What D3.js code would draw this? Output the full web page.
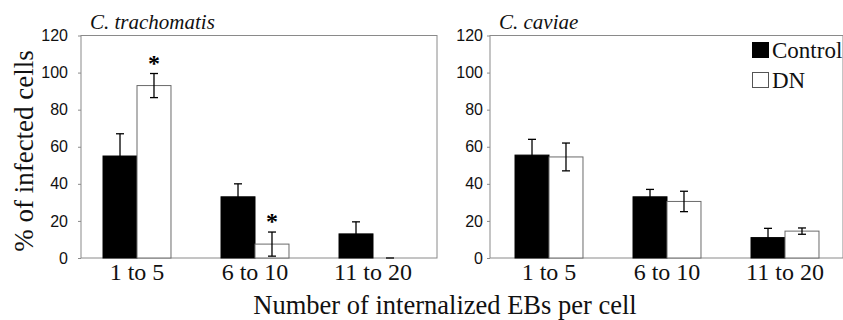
<!DOCTYPE html>
<html>
<head>
<meta charset="utf-8">
<script src="https://cdn.jsdelivr.net/npm/d3@7"></script>
<style>
  body { margin: 0; background: #fff; }
  svg { display: block; }
</style>
</head>
<body>
<script>
// data
var categories = ['1 to 5', '6 to 10', '11 to 20'];
var series = ['Control', 'DN'];
var yTicks = [0, 20, 40, 60, 80, 100, 120];

var trachMeans = { Control: [55, 33, 13], DN: [93, 7.5, 0] };
var trachErrs  = { Control: [12, 7, 6.5], DN: [6.5, 6.5, 0] };
var trachStars = { Control: [false, false, false], DN: [true, true, false] };

var caviaeMeans = { Control: [55.5, 33, 11], DN: [54.5, 30.5, 14.5] };
var caviaeErrs  = { Control: [8.5, 4, 5], DN: [7.5, 5.5, 1.7] };
var caviaeStars = { Control: [false, false, false], DN: [false, false, false] };

var serif = 'Liberation Serif';
var sans = 'Liberation Sans';

var w = 843, h = 320;
var plotTop = 35.5, plotBottom = 258;

var svg = d3.select('body').append('svg')
  .attr('width', w).attr('height', h);

var y = d3.scaleLinear().domain([0, 120]).range([plotBottom, plotTop]);

var drawPanel = (opts) => {
  var g = svg.append('g');

  var x0 = d3.scaleBand()
    .domain(categories)
    .range([opts.bandStart, opts.bandStart + 354])
    .paddingInner(0.424)
    .paddingOuter(0.212);
  var x1 = d3.scaleBand().domain(series).range([0, x0.bandwidth()]);

  // frame
  g.append('rect')
    .attr('x', opts.left).attr('y', plotTop)
    .attr('width', opts.right - opts.left).attr('height', plotBottom - plotTop)
    .attr('fill', 'none').attr('stroke', '#8a8a8a').attr('stroke-width', 1);

  // y axis
  var yAxis = g.append('g')
    .attr('transform', 'translate(' + opts.left + ',0)')
    .call(d3.axisLeft(y).tickValues(yTicks).tickSize(3).tickPadding(opts.yPad));
  yAxis.select('.domain').remove();
  yAxis.selectAll('line').attr('stroke', '#8a8a8a');
  yAxis.selectAll('text')
    .style('font-family', sans)
    .attr('font-size', 16).attr('fill', '#111');

  // x axis labels
  var xAxis = g.append('g')
    .attr('transform', 'translate(0,' + plotBottom + ')')
    .call(d3.axisBottom(x0).tickSize(0).tickPadding(5));
  xAxis.select('.domain').remove();
  xAxis.selectAll('text')
    .style('font-family', serif)
    .attr('font-size', 24).attr('fill', '#111');

  var rows = [];
  categories.forEach((c, i) => {
    series.forEach((s) => {
      rows.push({ cat: c, s: s, v: opts.means[s][i], e: opts.errs[s][i], star: opts.stars[s][i] });
    });
  });

  var bars = g.selectAll('.bar').data(rows).enter().append('g')
    .attr('class', 'bar')
    .attr('transform', (d) => 'translate(' + (x0(d.cat) + x1(d.s)) + ',0)');

  bars.append('rect')
    .attr('x', 0)
    .attr('y', (d) => y(d.v))
    .attr('width', x1.bandwidth())
    .attr('height', (d) => y(0) - y(d.v))
    .attr('fill', (d) => d.s === 'Control' ? '#000' : '#fff')
    .attr('stroke', (d) => d.s === 'Control' ? '#000' : '#6a6a6a')
    .attr('stroke-width', 1);

  var cx = x1.bandwidth() / 2;
  bars.append('line')
    .attr('x1', cx).attr('x2', cx)
    .attr('y1', (d) => y(d.v + d.e)).attr('y2', (d) => y(Math.max(0, d.v - d.e)))
    .attr('stroke', '#000').attr('stroke-width', 1.3);
  bars.append('line')
    .attr('x1', cx - 4).attr('x2', cx + 4)
    .attr('y1', (d) => y(d.v + d.e)).attr('y2', (d) => y(d.v + d.e))
    .attr('stroke', '#000').attr('stroke-width', 1.3);
  bars.filter((d) => d.v - d.e > 0).append('line')
    .attr('x1', cx - 4).attr('x2', cx + 4)
    .attr('y1', (d) => y(d.v - d.e)).attr('y2', (d) => y(d.v - d.e))
    .attr('stroke', '#000').attr('stroke-width', 1.3);

  bars.filter((d) => d.star).append('text')
    .style('font-family', serif)
    .attr('x', cx)
    .attr('y', (d) => y(d.v + d.e) - 3)
    .attr('text-anchor', 'middle')
    .attr('font-weight', 'bold')
    .attr('font-size', 24)
    .text('*');

  // panel title
  g.append('text')
    .style('font-family', serif)
    .attr('x', opts.left + 9).attr('y', 29)
    .attr('font-style', 'italic')
    .attr('font-size', 21)
    .attr('fill', '#111')
    .text(opts.title);
};

drawPanel({ title: 'C. trachomatis', left: 81, right: 437, bandStart: 78, yPad: 10,
  means: trachMeans, errs: trachErrs, stars: trachStars });
drawPanel({ title: 'C. caviae', left: 490, right: 843, bandStart: 490, yPad: 4,
  means: caviaeMeans, errs: caviaeErrs, stars: caviaeStars });

// legend
var legend = svg.append('g').attr('transform', 'translate(752,42)');
series.forEach((s, i) => {
  legend.append('rect')
    .attr('x', 0.5).attr('y', i * 30 + 0.5)
    .attr('width', 16).attr('height', 15)
    .attr('fill', s === 'Control' ? '#000' : '#fff')
    .attr('stroke', s === 'Control' ? '#000' : '#555');
  legend.append('text')
    .style('font-family', serif)
    .attr('x', 20).attr('y', i * 30 + 15.5)
    .attr('font-size', 23)
    .attr('fill', '#111')
    .text(s);
});

// axis titles
svg.append('text')
  .style('font-family', serif)
  .attr('x', 445).attr('y', 314)
  .attr('text-anchor', 'middle')
  .attr('font-size', 26.5)
  .attr('fill', '#111')
  .text('Number of internalized EBs per cell');

svg.append('text')
  .style('font-family', serif)
  .attr('transform', 'translate(33,151) rotate(-90)')
  .attr('text-anchor', 'middle')
  .attr('font-size', 27)
  .attr('fill', '#111')
  .text('% of infected cells');
</script>
</body>
</html>
